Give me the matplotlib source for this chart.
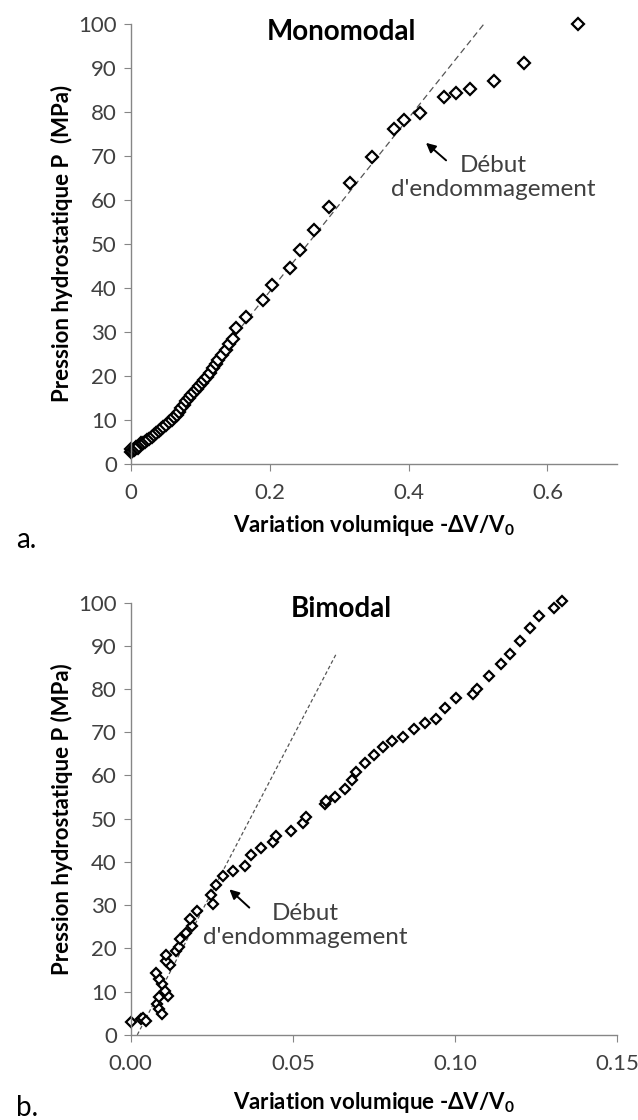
import matplotlib.pyplot as plt

plt.rcParams['font.family'] = ['Lato', 'DejaVu Sans']

# Monomodal: volume change -dV/V0 vs hydrostatic pressure (MPa)
mono_dv = [0.000, 0.001, 0.002, 0.004, 0.006, 0.008, 0.010, 0.012, 0.015, 0.018,
           0.020, 0.023, 0.026, 0.030, 0.033, 0.037, 0.040, 0.044, 0.047, 0.051,
           0.055, 0.059, 0.062, 0.066, 0.069, 0.073, 0.076, 0.080, 0.084, 0.087,
           0.091, 0.095, 0.098, 0.102, 0.106, 0.110, 0.114, 0.119, 0.122, 0.126,
           0.131, 0.137, 0.142, 0.147, 0.152, 0.166, 0.191, 0.203, 0.229, 0.243,
           0.264, 0.286, 0.315, 0.348, 0.379, 0.394, 0.416, 0.451, 0.468, 0.488,
           0.523, 0.566, 0.644]
mono_p = [2.6, 3.4, 2.8, 3.0, 3.3, 3.9, 3.6, 4.0, 4.7, 4.8,
          5.0, 5.3, 5.6, 6.1, 6.5, 7.0, 7.4, 7.9, 8.3, 8.9,
          9.4, 10.0, 10.5, 11.1, 11.8, 12.7, 13.4, 14.2, 15.0, 15.7,
          16.3, 17.0, 17.6, 18.3, 19.0, 19.8, 20.6, 21.7, 22.6, 23.6,
          24.8, 25.9, 27.1, 28.4, 30.9, 33.4, 37.2, 40.5, 44.4, 48.6,
          53.2, 58.3, 63.7, 69.7, 76.1, 78.0, 79.7, 83.3, 84.2, 85.1,
          87.0, 91.1, 99.8]
mono_fit_dv = [0.07, 0.509]
mono_fit_p = [13.5, 100.0]

# Bimodal
bi_dv = [0.0002, 0.0033, 0.0038, 0.0048, 0.0081, 0.0087, 0.0095, 0.0087, 0.0115, 0.0105,
         0.0095, 0.0087, 0.0079, 0.0120, 0.0110, 0.0110, 0.0141, 0.0149, 0.0151, 0.0170,
         0.0190, 0.0182, 0.0203, 0.0254, 0.0249, 0.0262, 0.0285, 0.0316, 0.0352, 0.0372,
         0.0403, 0.0439, 0.0448, 0.0493, 0.0530, 0.0542, 0.0599, 0.0602, 0.0630, 0.0660,
         0.0684, 0.0694, 0.0724, 0.0750, 0.0777, 0.0805, 0.0840, 0.0873, 0.0907, 0.0943,
         0.0969, 0.1003, 0.1057, 0.1067, 0.1105, 0.1141, 0.1170, 0.1201, 0.1231, 0.1260,
         0.1306, 0.1331]
bi_p = [3.0, 3.6, 3.9, 3.2, 7.1, 5.9, 4.8, 8.7, 9.0, 10.2,
        11.7, 13.0, 14.3, 16.2, 17.1, 18.4, 19.4, 20.4, 22.2, 23.6,
        25.3, 26.8, 28.6, 30.3, 32.4, 34.6, 36.8, 37.8, 39.0, 41.7,
        43.3, 44.5, 46.0, 47.1, 49.0, 50.5, 53.4, 54.1, 55.1, 56.8,
        59.0, 60.9, 62.8, 64.8, 66.7, 67.9, 68.8, 70.8, 72.1, 73.1,
        75.5, 78.0, 78.9, 80.1, 83.1, 85.7, 88.2, 91.2, 94.1, 97.0,
        98.8, 100.3]
bi_fit_dv = [0.002, 0.0635]
bi_fit_p = [0.0, 88.3]

axis_grey = '#868686'
text_grey = '#404040'

fig = plt.figure(figsize=(6.38, 11.2), dpi=100)


def style_axes(ax):
    for side in ['top', 'right']:
        ax.spines[side].set_visible(False)
    for side in ['left', 'bottom']:
        ax.spines[side].set_color(axis_grey)
        ax.spines[side].set_linewidth(1.0)
    ax.tick_params(direction='out', length=5, color=axis_grey, labelcolor=text_grey,
                   labelsize=16)
    ax.tick_params(axis='x', pad=9)
    ax.tick_params(axis='y', pad=5)
    ax.set_ylim(0, 100)
    ax.set_yticks(range(0, 101, 10))


# ---- a. Monomodal
ax1 = fig.add_axes([0.205, 0.586, 0.762, 0.393])
style_axes(ax1)
ax1.plot(mono_fit_dv, mono_fit_p, color='#555555', lw=0.9, ls=(0, (5, 3)))
ax1.plot(mono_dv, mono_p, ls='none', marker='D', ms=6, mfc='white', mec='black', mew=1.6,
         clip_on=False)
ax1.set_xlim(0, 0.7)
ax1.set_xticks([0, 0.2, 0.4, 0.6])
ax1.set_xticklabels(['0', '0.2', '0.4', '0.6'])
ax1.set_xlabel('Variation volumique -ΔV/V$_\\mathregular{0}$', fontsize=16, fontweight='bold',
               labelpad=7)
ax1.set_ylabel('Pression hydrostatique P  (MPa)', fontsize=16, fontweight='bold', labelpad=4)
ax1.text(0.434, 0.98, 'Monomodal', transform=ax1.transAxes, ha='center', va='center',
         fontsize=20, fontweight='bold')
ax1.annotate('', xy=(0.422, 73.3), xytext=(0.457, 68.5),
             arrowprops=dict(arrowstyle='-|>', color='black', lw=1.4, mutation_scale=14))
ax1.text(0.522, 65.0, "Début\nd'endommagement", ha='center', va='center', fontsize=17.5,
         color=text_grey, linespacing=1.15)
fig.text(0.025, 1 - 540 / 1120, 'a.', fontsize=20, va='center', ha='left')

# ---- b. Bimodal
ax2 = fig.add_axes([0.205, 0.076, 0.762, 0.386])
style_axes(ax2)
ax2.plot(bi_fit_dv, bi_fit_p, color='#555555', lw=0.9, ls=(0, (3, 2)))
ax2.plot(bi_dv, bi_p, ls='none', marker='D', ms=5.5, mfc='white', mec='black', mew=1.6,
         clip_on=False)
ax2.set_xlim(0, 0.15)
ax2.set_xticks([0, 0.05, 0.10, 0.15])
ax2.set_xticklabels(['0.00', '0.05', '0.10', '0.15'])
ax2.set_xlabel('Variation volumique -ΔV/V$_\\mathregular{0}$', fontsize=16, fontweight='bold',
               labelpad=11)
ax2.set_ylabel('Pression hydrostatique P (MPa)', fontsize=16, fontweight='bold', labelpad=4)
ax2.text(0.434, 0.985, 'Bimodal', transform=ax2.transAxes, ha='center', va='center',
         fontsize=20, fontweight='bold')
ax2.annotate('', xy=(0.0298, 34.1), xytext=(0.0372, 29.0),
             arrowprops=dict(arrowstyle='-|>', color='black', lw=1.4, mutation_scale=14))
ax2.text(0.0538, 25.3, "Début\nd'endommagement", ha='center', va='center', fontsize=17.5,
         color=text_grey, linespacing=1.15)
fig.text(0.025, 1 - 1108 / 1120, 'b.', fontsize=20, va='center', ha='left')

fig.savefig('out.png', dpi=100, facecolor='white')
